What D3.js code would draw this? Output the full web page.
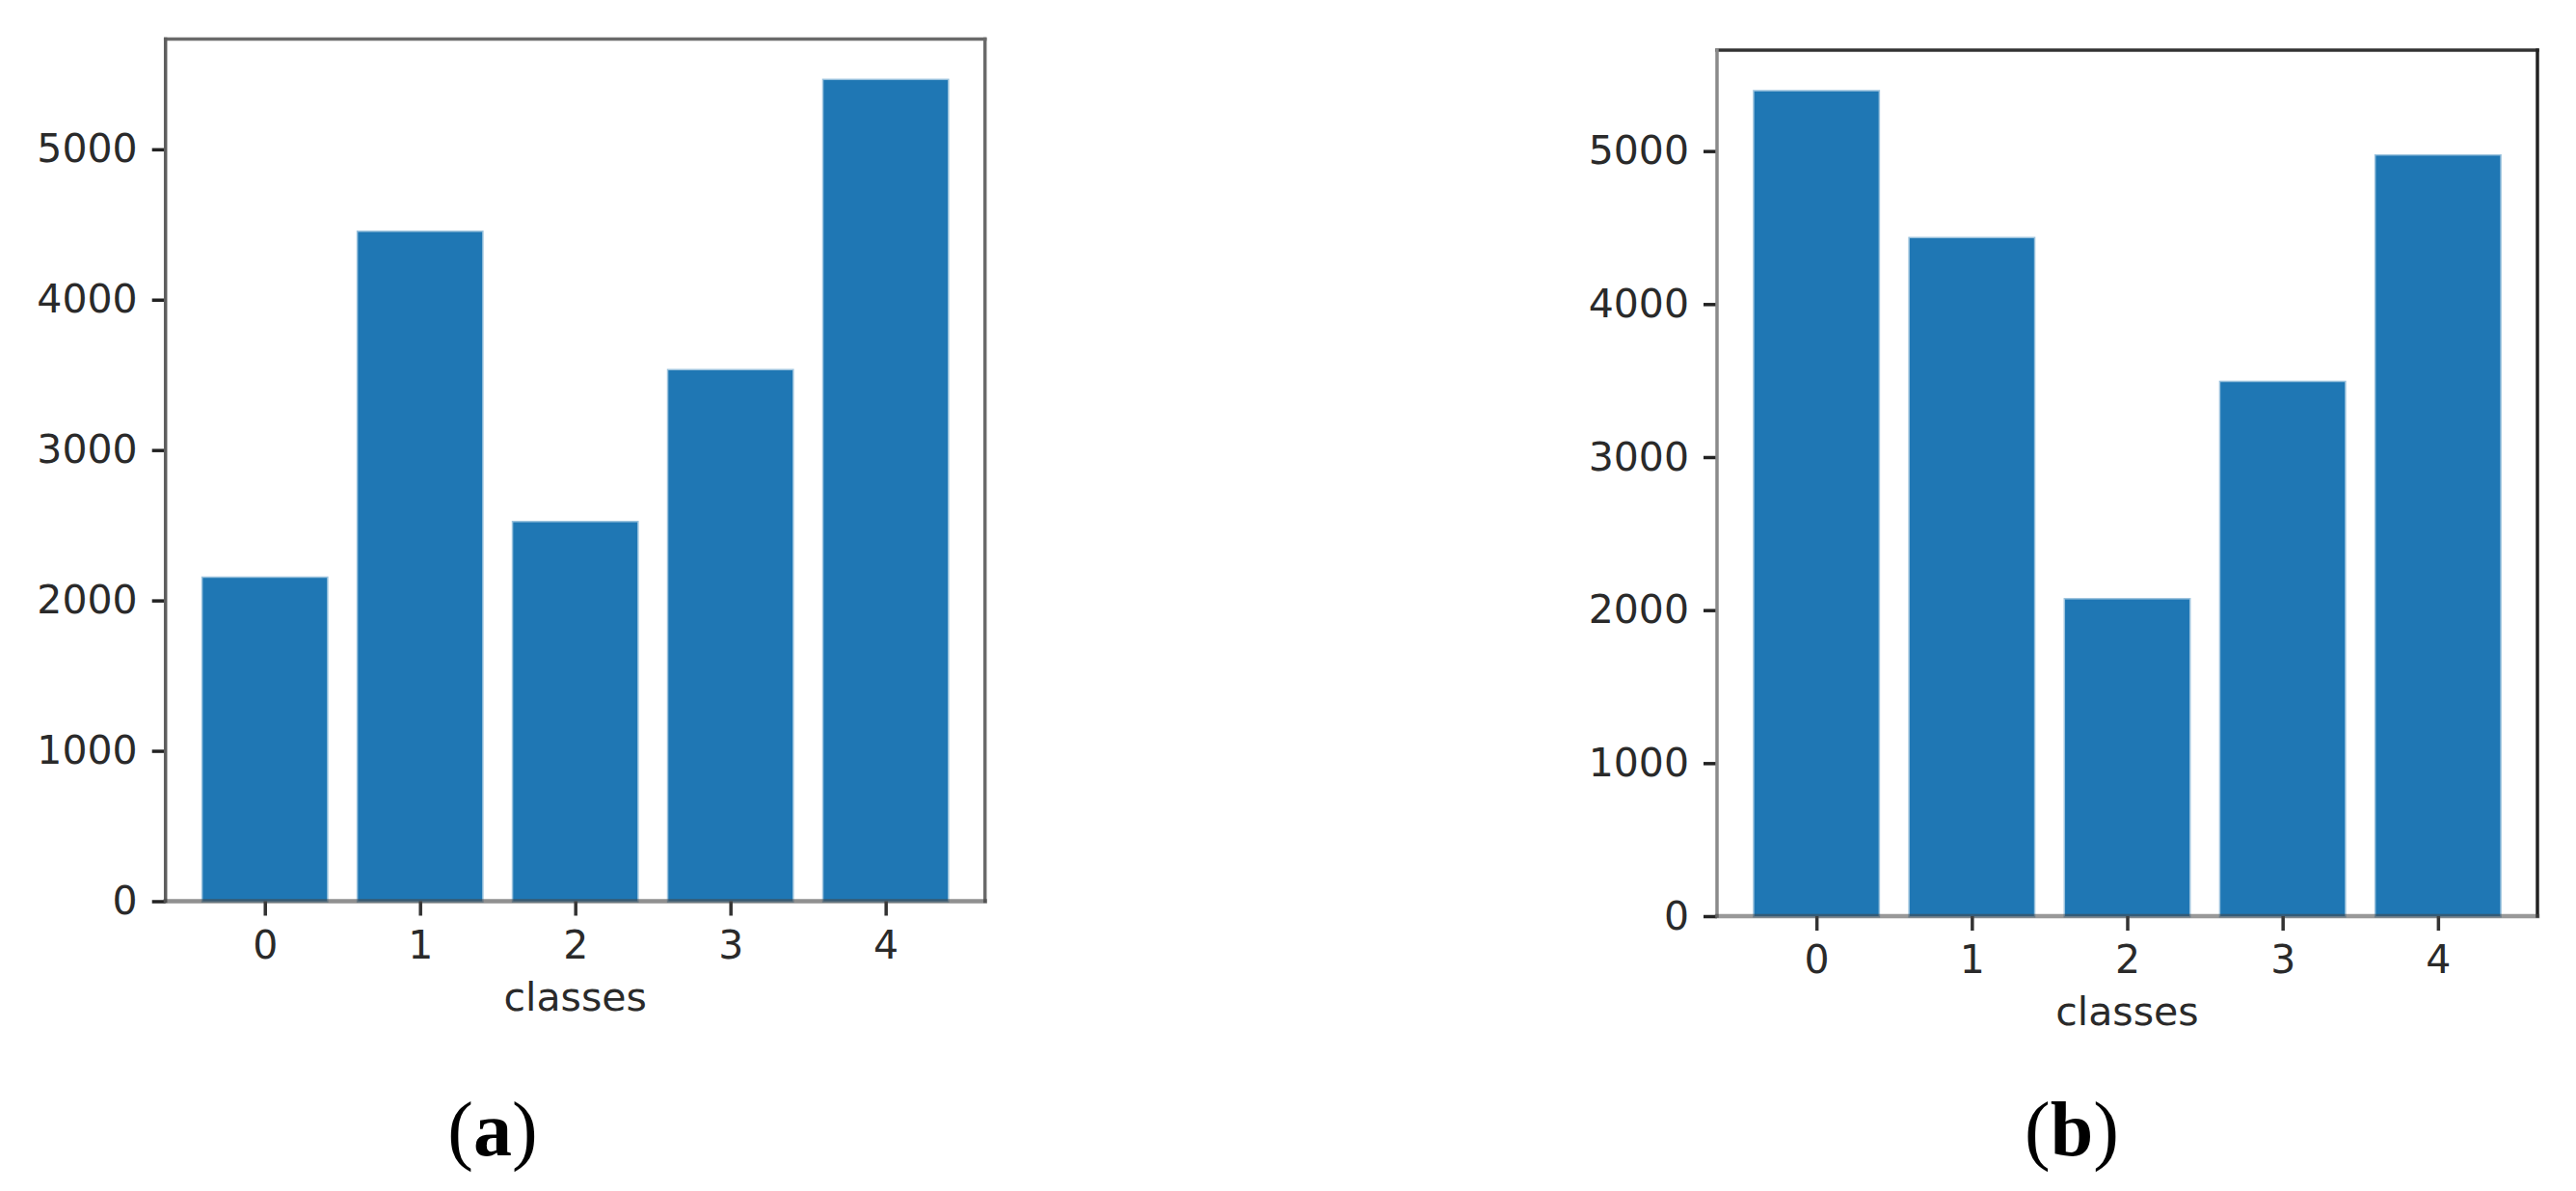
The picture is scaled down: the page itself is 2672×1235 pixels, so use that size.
<!DOCTYPE html>
<html>
<head>
<meta charset="utf-8">
<script src="https://cdn.jsdelivr.net/npm/d3@7"></script>
<style>
  html, body { margin: 0; padding: 0; background: #fff; }
  svg { display: block; }
</style>
</head>
<body>
<svg id="chart" width="2672" height="1235"></svg>
<script>
// ---- data ----
const classes = [0, 1, 2, 3, 4];
const countsA = [2150, 4450, 2520, 3530, 5460];
const countsB = [5390, 4430, 2070, 3490, 4970];
const yTicks = [0, 1000, 2000, 3000, 4000, 5000];
const xLabel = "classes";
const panelLabels = ["a", "b"];

// ---- layout ----
const svg = d3.select("#chart");
const FONT = "'DejaVu Sans', sans-serif";
const TEXT = "#2a2a2a";
const BAR = "#1f77b4";

const panels = [
  { values: countsA, left: 171.7, right: 1021.7, top: 40.5, bottom: 934.5,
    spine: { top: "#6a6a6a", right: "#6a6a6a", left: "#5e5e5e", bottom: "rgba(70,70,70,0.6)" },
    capX: 511, label: panelLabels[0] },
  { values: countsB, left: 1781, right: 2632, top: 52, bottom: 950,
    spine: { top: "#333", right: "#222", left: "#8a8a8a", bottom: "rgba(70,70,70,0.55)" },
    capX: 2149, label: panelLabels[1] }
];

panels.forEach(p => {
  const maxV = d3.max(p.values);
  const x = d3.scaleLinear().domain([-0.64, 4.64]).range([p.left, p.right]);
  const y = d3.scaleLinear().domain([0, maxV * 1.05]).range([p.bottom, p.top]);
  const g = svg.append("g");

  // bars
  g.selectAll("rect.bar").data(p.values).join("rect")
    .attr("class", "bar")
    .attr("x", (d, i) => x(classes[i] - 0.4))
    .attr("width", (d, i) => x(classes[i] + 0.4) - x(classes[i] - 0.4))
    .attr("y", d => y(d))
    .attr("height", d => y(0) - y(d))
    .attr("fill", BAR)
    .attr("stroke", "rgba(31,119,180,0.45)")
    .attr("stroke-width", 3);

  // y axis
  const ya = g.append("g")
    .attr("transform", `translate(${p.left},0)`)
    .call(d3.axisLeft(y).tickValues(yTicks).tickSize(14).tickPadding(15).tickFormat(d3.format("d")));
  ya.select(".domain").remove();
  ya.selectAll(".tick line").attr("stroke", "#222").attr("stroke-width", 3.5);
  ya.selectAll(".tick text").attr("font-family", FONT).attr("font-size", 41).attr("fill", TEXT);

  // x axis
  const xa = g.append("g")
    .attr("transform", `translate(0,${p.bottom})`)
    .call(d3.axisBottom(x).tickValues(classes).tickSize(15).tickPadding(15).tickFormat(d3.format("d")));
  xa.select(".domain").remove();
  xa.selectAll(".tick line").attr("stroke", "#333").attr("stroke-width", 3.5);
  xa.selectAll(".tick text").attr("font-family", FONT).attr("font-size", 41).attr("fill", TEXT);

  // spines
  const sw = 3.5;
  g.append("line").attr("x1", p.left).attr("x2", p.right).attr("y1", p.top).attr("y2", p.top)
    .attr("stroke", p.spine.top).attr("stroke-width", sw).attr("stroke-linecap", "square");
  g.append("line").attr("x1", p.right).attr("x2", p.right).attr("y1", p.top).attr("y2", p.bottom)
    .attr("stroke", p.spine.right).attr("stroke-width", sw).attr("stroke-linecap", "square");
  g.append("line").attr("x1", p.left).attr("x2", p.left).attr("y1", p.top).attr("y2", p.bottom)
    .attr("stroke", p.spine.left).attr("stroke-width", sw).attr("stroke-linecap", "square");
  g.append("line").attr("x1", p.left).attr("x2", p.right).attr("y1", p.bottom).attr("y2", p.bottom)
    .attr("stroke", p.spine.bottom).attr("stroke-width", sw + 1).attr("stroke-linecap", "square");

  // x label
  g.append("text")
    .attr("x", (p.left + p.right) / 2)
    .attr("y", p.bottom + 113)
    .attr("text-anchor", "middle")
    .attr("font-family", FONT).attr("font-size", 41).attr("fill", TEXT)
    .text(xLabel);

  // caption
  const cap = svg.append("text")
    .attr("x", p.capX).attr("y", 1198)
    .attr("text-anchor", "middle")
    .attr("font-family", "'Liberation Serif', 'Times New Roman', serif")
    .attr("font-size", 80).attr("fill", "#000");
  cap.append("tspan").text("(");
  cap.append("tspan").attr("font-weight", "bold").text(p.label);
  cap.append("tspan").text(")");
});
</script>
</body>
</html>
